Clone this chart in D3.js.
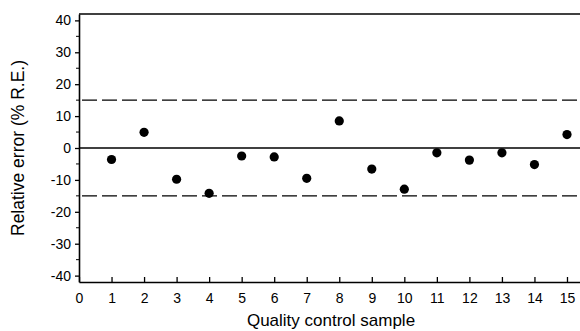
<!DOCTYPE html>
<html>
<head>
<meta charset="utf-8">
<script src="https://cdn.jsdelivr.net/npm/d3@7"></script>
<style>
  body { margin: 0; background: #fff; }
  text { font-family: "Liberation Sans", Arial, sans-serif; fill: #000; }
</style>
</head>
<body>
<svg id="chart" width="580" height="331"></svg>
<script>
// quality control samples and relative error (%)
const samples = [1, 2, 3, 4, 5, 6, 7, 8, 9, 10, 11, 12, 13, 14, 15]
const rel_error = [-3.6, 4.9, -9.8, -14.2, -2.5, -2.8, -9.5, 8.5, -6.6, -12.9, -1.5, -3.8, -1.5, -5.2, 4.2]
const x_ticks = [0, 1, 2, 3, 4, 5, 6, 7, 8, 9, 10, 11, 12, 13, 14, 15]
const y_ticks = [-40, -30, -20, -10, 0, 10, 20, 30, 40]
const y_minor = [-35, -25, -15, -5, 5, 15, 25, 35]
const limits = [-15, 15]

const svg = d3.select('#chart')

const x = d3.scaleLinear().domain([0, 15.4]).range([79, 580])
const y = d3.scaleLinear().domain([-42, 42]).range([282, 14])

// x axis, ticks pointing inward
const xAxis = svg.append('g')
    .attr('transform', 'translate(0,' + y(-42) + ')')
    .call(d3.axisBottom(x).tickValues(x_ticks).tickSizeInner(-5).tickSizeOuter(0).tickPadding(11))
xAxis.select('.domain').attr('stroke-width', 1.6)
xAxis.selectAll('.tick line').attr('stroke-width', 1.3)
xAxis.selectAll('text').attr('font-size', 14)

// y axis
const yAxis = svg.append('g')
    .attr('transform', 'translate(' + x(0) + ',0)')
    .call(d3.axisLeft(y).tickValues(y_ticks).tickFormat(d3.format('d')).tickSizeInner(4).tickSizeOuter(0).tickPadding(4))
yAxis.select('.domain').attr('stroke-width', 1.6)
yAxis.selectAll('.tick line').attr('stroke-width', 1.3)
yAxis.selectAll('text').attr('font-size', 14).text(d => d < 0 ? '-' + Math.abs(d) : d)

svg.append('g').selectAll('line')
    .data(y_minor)
    .enter()
    .append('line')
    .attr('x1', x(0) - 3)
    .attr('x2', x(0))
    .attr('y1', d => y(d))
    .attr('y2', d => y(d))
    .attr('stroke', '#000')
    .attr('stroke-width', 1)

// top frame line
svg.append('line')
    .attr('x1', x(0)).attr('x2', 580)
    .attr('y1', y(42)).attr('y2', y(42))
    .attr('stroke', '#000').attr('stroke-width', 1.6)

// zero line
svg.append('line')
    .attr('x1', x(0)).attr('x2', 580)
    .attr('y1', y(0)).attr('y2', y(0))
    .attr('stroke', '#000').attr('stroke-width', 1.3)

// acceptance limits
svg.append('g').selectAll('line')
    .data(limits)
    .enter()
    .append('line')
    .attr('x1', x(0) + 3).attr('x2', 580)
    .attr('y1', d => y(d)).attr('y2', d => y(d))
    .attr('stroke', '#000')
    .attr('stroke-width', 1.3)
    .attr('stroke-dasharray', '15,5')

// points
svg.append('g').selectAll('circle')
    .data(samples.map((s, i) => ({s: s, v: rel_error[i]})))
    .enter()
    .append('circle')
    .attr('cx', d => x(d.s))
    .attr('cy', d => y(d.v))
    .attr('r', 4.6)
    .attr('fill', '#000')

// titles
svg.append('text')
    .attr('x', 331)
    .attr('y', 326)
    .attr('text-anchor', 'middle')
    .attr('font-size', 17)
    .text('Quality control sample')

svg.append('text')
    .attr('transform', 'translate(24,148) rotate(-90)')
    .attr('text-anchor', 'middle')
    .attr('font-size', 17.5)
    .text('Relative error (% R.E.)')
</script>
</body>
</html>
